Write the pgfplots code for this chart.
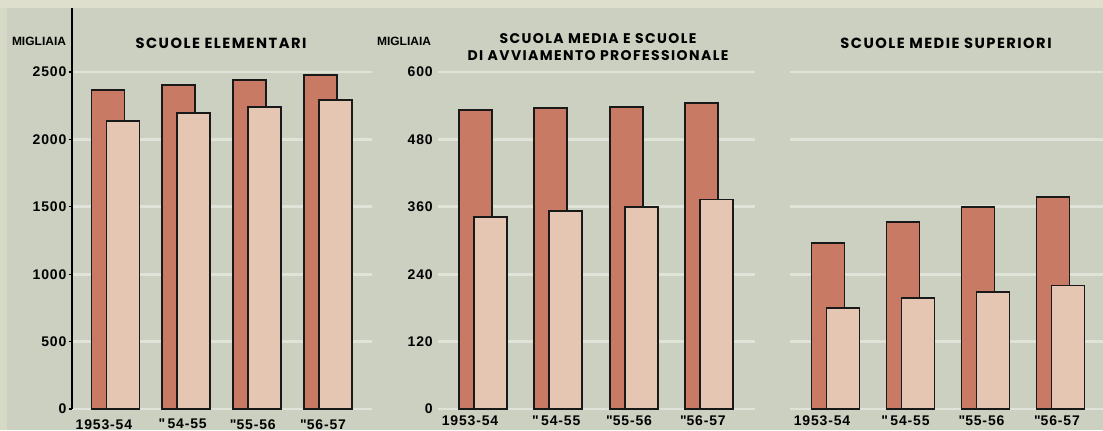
\documentclass[border=0pt]{standalone}
\usepackage{fontspec}
\setmainfont{Liberation Sans}
\newfontfamily\titlefont[LetterSpace=10]{Poppins}
\newfontfamily\tickfont[LetterSpace=6]{Liberation Sans}
\usepackage{pgfplots}
\pgfplotsset{compat=1.18}
\definecolor{bg}{HTML}{CCD0C0}
\definecolor{bgtop}{HTML}{DEDFCC}
\definecolor{darkbar}{HTML}{C97A65}
\definecolor{lightbar}{HTML}{E5C6B2}
\definecolor{gridc}{HTML}{E0E4D8}
\pgfplotsset{
 panel/.style={
   scale only axis, anchor=south west,
   ymin=0,
   axis x line*=bottom, axis y line*=left,
   x axis line style={draw=none},
   xtick style={draw=none},
   ymajorgrids, major grid style={gridc, line width=2pt},
   xticklabel style={font=\tickfont\bfseries\fontsize{10.5}{12}\selectfont, inner sep=0pt, anchor=north, yshift=-5pt},
   yticklabel style={font=\tickfont\bfseries\fontsize{10.5}{12}\selectfont, inner sep=0pt, anchor=east},
   clip=false,
 },
 dk/.style={ybar, bar width=24.75pt, fill=darkbar, draw=black!90, line width=1.35pt, bar shift=-5.625pt},
 lt/.style={ybar, bar width=24.75pt, fill=lightbar, draw=black!90, line width=1.35pt, bar shift=5.625pt},
}
\begin{document}
\begin{tikzpicture}
\useasboundingbox (0,0) rectangle (827.25pt,-322.5pt);
\fill[bg] (0,0) rectangle (827.25pt,-322.5pt);
\fill[bgtop] (0,0) rectangle (827.25pt,-6pt);
\fill[bgtop!60!bg] (0,-6pt) rectangle (5pt,-322.5pt);

% Panel 1
\begin{axis}[panel,
  at={(54pt,-306.75pt)}, width=225pt, height=300.75pt,
  ymax=2975, xmin=-0.615, xmax=3.628,
  ytick={0,500,1000,1500,2000,2500},
  yticklabels={0,500,1000,1500,2000,2500},
  y axis line style={black, line width=1.2pt},
  ytick style={black, line width=1pt},
  tick align=outside, major tick length=2.5pt,
  yticklabel style={xshift=-1.5pt},
  xtick={-0.163,0.95,1.943,2.936},
  xticklabels={1953-54,{\textquotedbl\,54-55},{\textquotedbl55-56},{\textquotedbl56-57}},
]
\addplot[dk] coordinates {(0,2366) (1,2404) (2,2441) (3,2478)};
\addplot[lt] coordinates {(0,2136) (1,2198) (2,2243) (3,2292)};
\end{axis}

% Panel 2
\begin{axis}[panel,
  at={(328.5pt,-306.75pt)}, width=237.75pt, height=252.75pt,
  ymax=600, xmin=-0.598, xmax=3.612,
  ytick={0,120,240,360,480,600},
  yticklabels={0,120,240,360,480,600},
  y axis line style={draw=none},
  ytick style={draw=none},
  yticklabel style={xshift=-3.75pt},
  xtick={-0.173,0.973,1.94,2.92},
  xticklabels={1953-54,{\textquotedbl\,54-55},{\textquotedbl55-56},{\textquotedbl56-57}},
]
\addplot[dk] coordinates {(0,532) (1,536) (2,537) (3,545)};
\addplot[lt] coordinates {(0,342) (1,353) (2,360) (3,373)};
\end{axis}

% Panel 3
\begin{axis}[panel,
  at={(592.5pt,-306.75pt)}, width=234.75pt, height=252.75pt,
  ymax=600, xmin=-0.607, xmax=3.567,
  ytick={0,120,240,360,480,600},
  yticklabels={},
  y axis line style={draw=none},
  ytick style={draw=none},
  xtick={-0.18,0.933,1.947,2.953},
  xticklabels={1953-54,{\textquotedbl\,54-55},{\textquotedbl55-56},{\textquotedbl56-57}},
]
\addplot[dk] coordinates {(0,295) (1,333) (2,360) (3,378)};
\addplot[lt] coordinates {(0,180) (1,197) (2,209) (3,220)};
\end{axis}

% Titles
\node[font=\titlefont\bfseries\fontsize{11}{13}\selectfont, inner sep=0pt] at (165.75pt,-32.25pt) {SCUOLE ELEMENTARI};
\node[font=\titlefont\bfseries\fontsize{10.5}{12.75}\selectfont, inner sep=0pt, align=center] at (448.5pt,-35pt) {SCUOLA MEDIA E SCUOLE\\DI AVVIAMENTO PROFESSIONALE};
\node[font=\titlefont\bfseries\fontsize{11}{13}\selectfont, inner sep=0pt] at (709.5pt,-32.25pt) {SCUOLE MEDIE SUPERIORI};
\node[font=\bfseries\fontsize{9}{10}\selectfont, inner sep=0pt] at (29.25pt,-30.75pt) {MIGLIAIA};
\node[font=\bfseries\fontsize{9}{10}\selectfont, inner sep=0pt] at (303pt,-30.75pt) {MIGLIAIA};
\end{tikzpicture}
\end{document}
